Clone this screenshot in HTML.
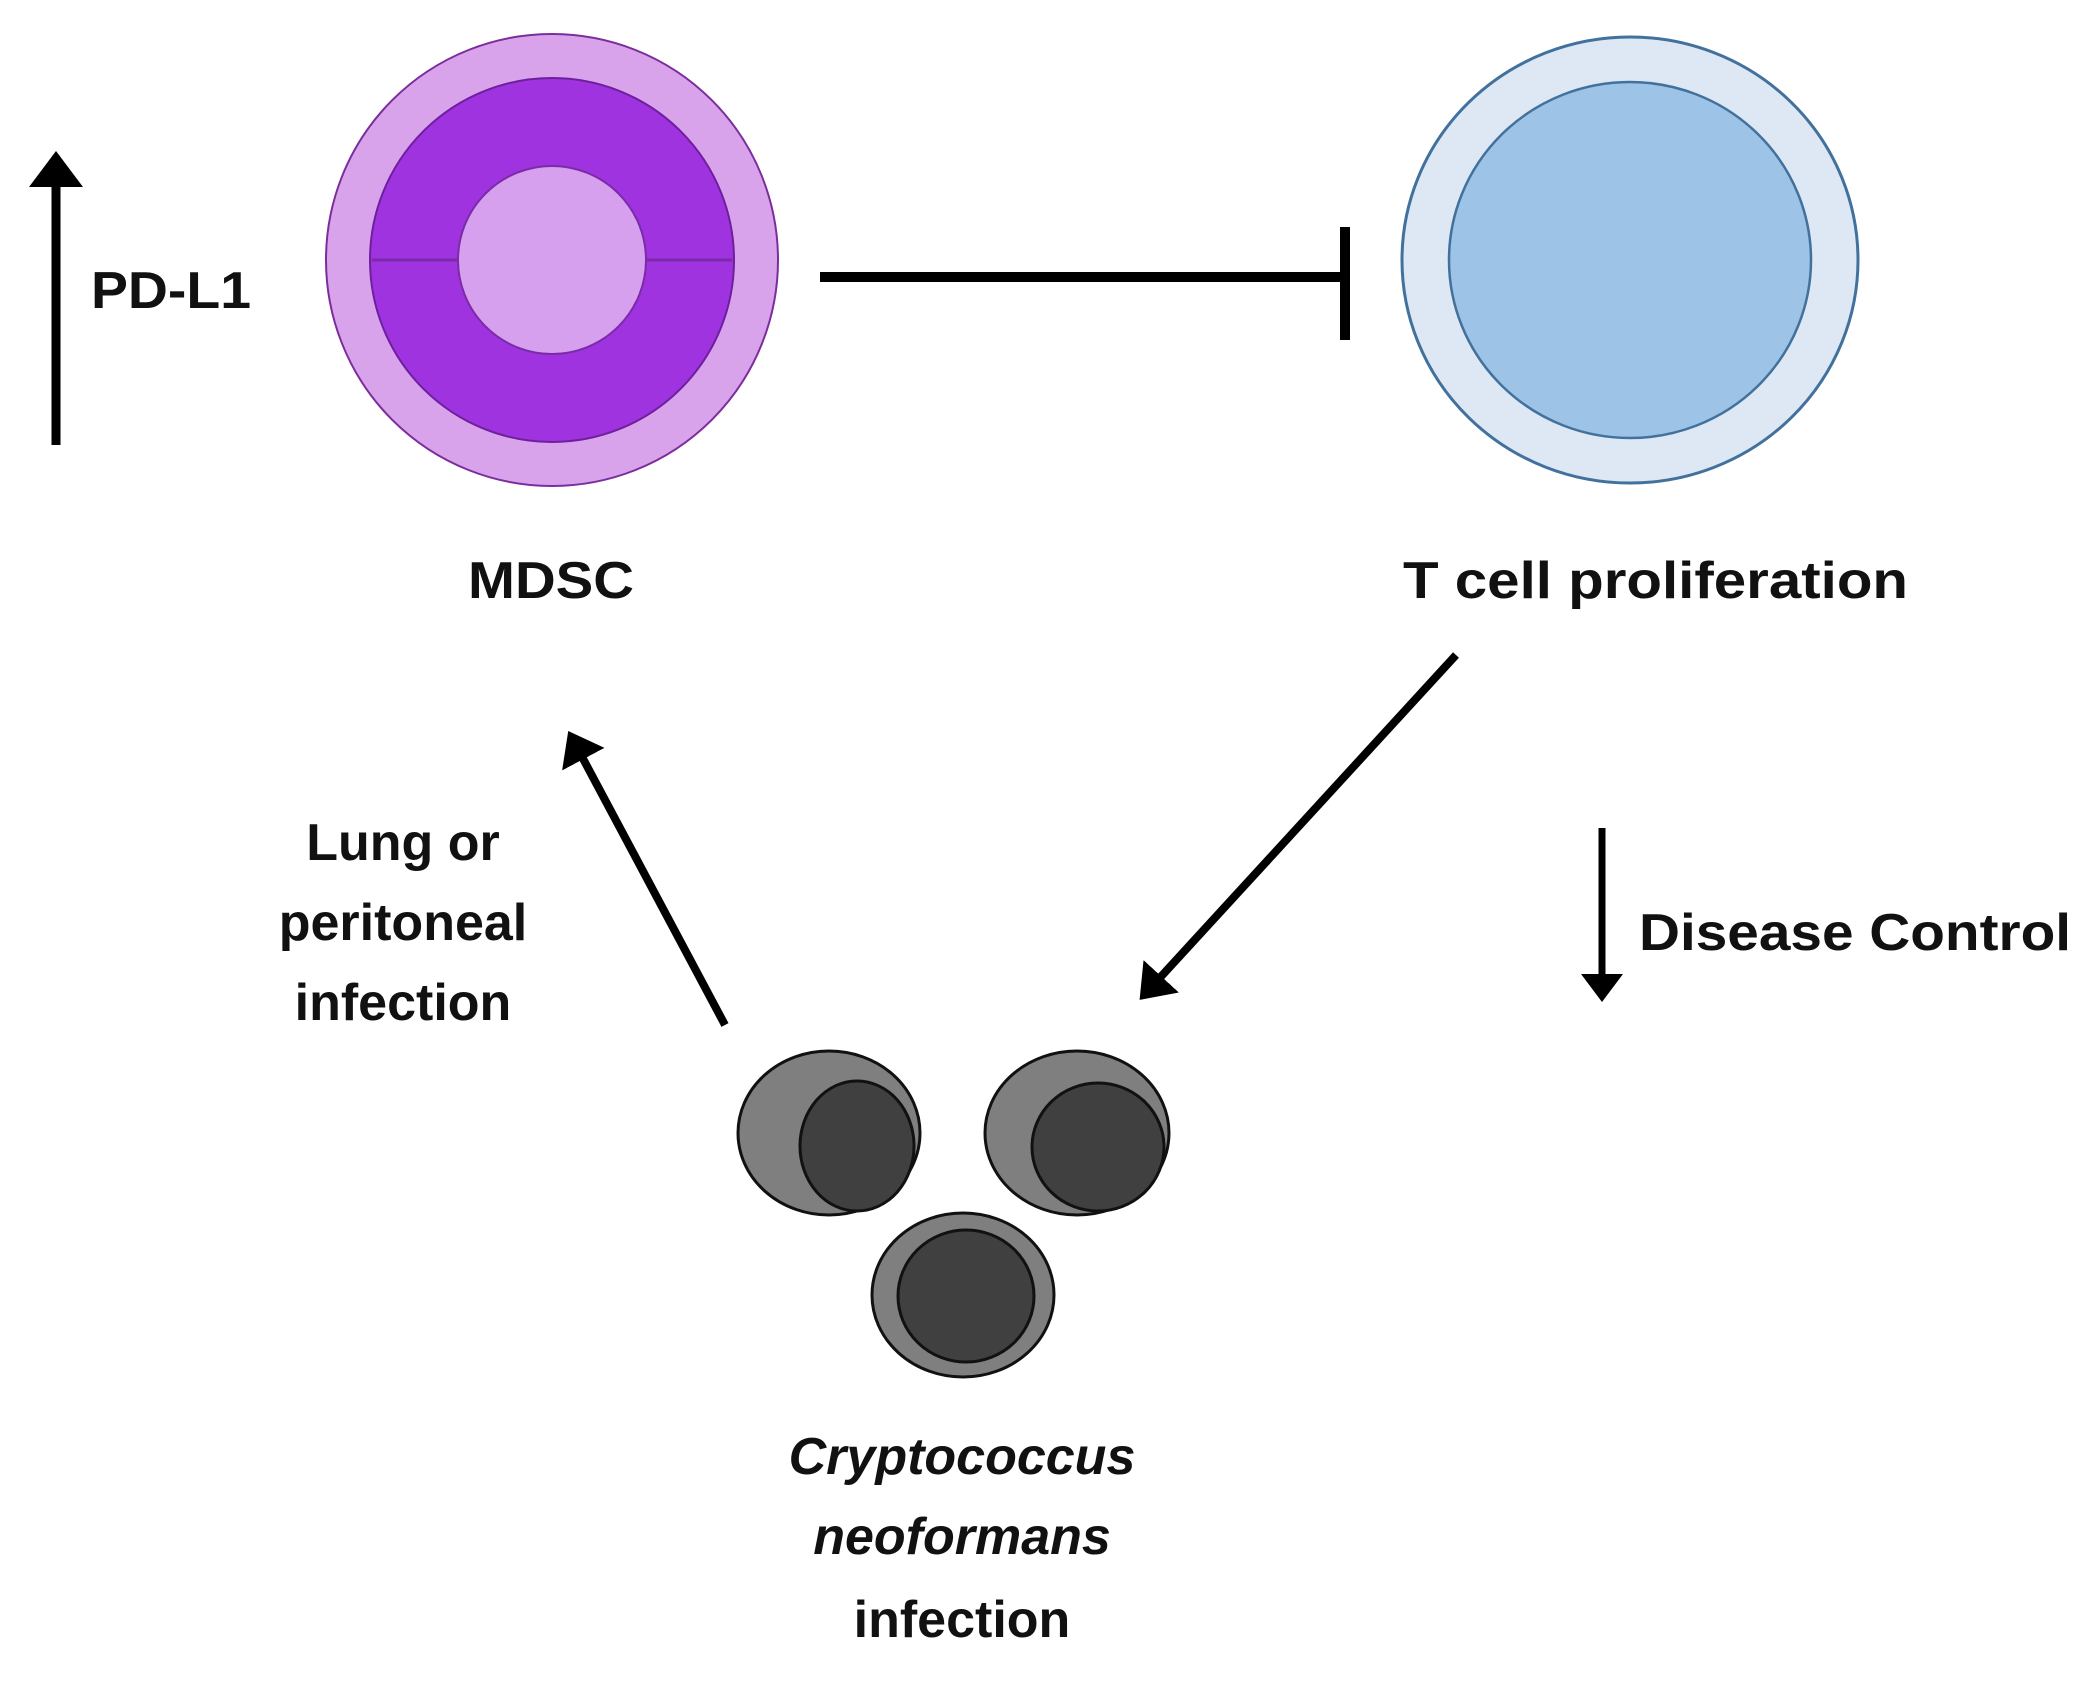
<!DOCTYPE html>
<html><head><style>
html,body{margin:0;padding:0;background:#fff}
svg{display:block}
text{font-family:"Liberation Sans",sans-serif;font-weight:bold;fill:#111}
</style></head><body>
<svg width="2095" height="1689" viewBox="0 0 2095 1689" xmlns="http://www.w3.org/2000/svg">
<defs>
<marker id="ah" markerWidth="8" markerHeight="8" refX="3" refY="4" orient="auto" markerUnits="strokeWidth"><path d="M0,1 L4,4 L0,7 Z" fill="#000"/></marker>
</defs>
<circle cx="552" cy="260" r="226" fill="#d9a3ec" stroke="#7b2d9c" stroke-width="2"/>
<circle cx="552" cy="260" r="182" fill="#a033e0" stroke="#6e1f9e" stroke-width="2"/>
<line x1="372" y1="260" x2="732" y2="260" stroke="#7b2aa8" stroke-width="3"/>
<circle cx="552" cy="260" r="94" fill="#d6a0ee" stroke="#7b2aa8" stroke-width="2"/>
<ellipse cx="1630" cy="260" rx="228" ry="223" fill="#dde8f4" stroke="#41719c" stroke-width="3"/>
<ellipse cx="1630" cy="260" rx="181" ry="178" fill="#9dc3e6" stroke="#41719c" stroke-width="2.5"/>
<line x1="820" y1="277" x2="1345" y2="277" stroke="#000" stroke-width="10"/>
<line x1="1345" y1="227" x2="1345" y2="340" stroke="#000" stroke-width="10"/>
<line x1="56" y1="445" x2="56" y2="160" stroke="#000" stroke-width="9" marker-end="url(#ah)"/>
<text x="91" y="308" font-size="52" textLength="160" lengthAdjust="spacingAndGlyphs">PD-L1</text>
<text x="468" y="598" font-size="52" textLength="166" lengthAdjust="spacingAndGlyphs">MDSC</text>
<text x="1403" y="598" font-size="52" textLength="505" lengthAdjust="spacingAndGlyphs">T cell proliferation</text>
<line x1="725" y1="1025" x2="572" y2="738" stroke="#000" stroke-width="8" marker-end="url(#ah)"/>
<line x1="1456" y1="655" x2="1145" y2="994" stroke="#000" stroke-width="8" marker-end="url(#ah)"/>
<line x1="1602" y1="828" x2="1602" y2="995" stroke="#000" stroke-width="7" marker-end="url(#ah)"/>
<text x="1639" y="950" font-size="52" textLength="432" lengthAdjust="spacingAndGlyphs">Disease Control</text>
<text x="403" y="860" font-size="52" text-anchor="middle">Lung or</text>
<text x="403" y="940" font-size="52" text-anchor="middle">peritoneal</text>
<text x="403" y="1020" font-size="52" text-anchor="middle">infection</text>
<ellipse cx="829" cy="1133" rx="91" ry="82" fill="#7f7f7f" stroke="#111" stroke-width="3"/>
<ellipse cx="857" cy="1146" rx="57" ry="65" fill="#404040" stroke="#111" stroke-width="3"/>
<ellipse cx="1077" cy="1133" rx="92" ry="82" fill="#7f7f7f" stroke="#111" stroke-width="3"/>
<ellipse cx="1098" cy="1147" rx="66" ry="64" fill="#404040" stroke="#111" stroke-width="3"/>
<ellipse cx="963" cy="1295" rx="91" ry="82" fill="#7f7f7f" stroke="#111" stroke-width="3"/>
<ellipse cx="966" cy="1296" rx="68" ry="66" fill="#404040" stroke="#111" stroke-width="3"/>
<text x="962" y="1474" font-size="52" text-anchor="middle" font-style="italic">Cryptococcus</text>
<text x="962" y="1554" font-size="52" text-anchor="middle" font-style="italic">neoformans</text>
<text x="962" y="1637" font-size="52" text-anchor="middle">infection</text>
</svg>
</body></html>
